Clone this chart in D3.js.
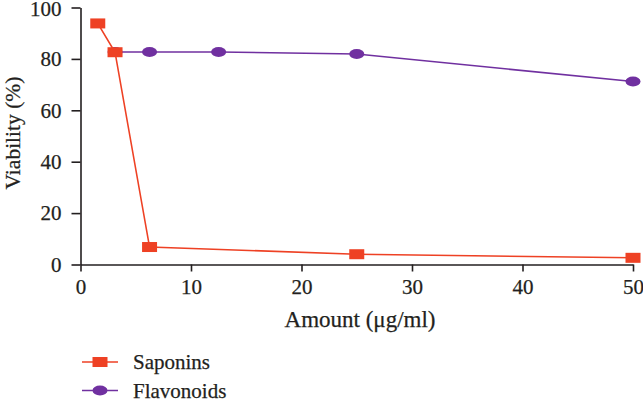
<!DOCTYPE html>
<html><head><meta charset="utf-8">
<script src="https://cdn.jsdelivr.net/npm/d3@7"></script>
<style>body{margin:0;background:#fff;} text{font-family:"Liberation Serif","DejaVu Serif",serif;fill:#231f20;stroke:#231f20;stroke-width:0.25px;}</style>
</head><body><svg id="c" width="643" height="417"></svg>
<script>
const sapX = [1.5625, 3.125, 6.25, 25, 50];
const sapY = [93.8, 82.6, 6.8, 4.0, 2.6];
const flaX = [3.125, 6.25, 12.5, 25, 50];
const flaY = [82.7, 82.7, 82.7, 81.9, 71.2];
const xTicks = [0, 10, 20, 30, 40, 50];
const yTicks = [0, 20, 40, 60, 80, 100];
const seriesNames = ["Saponins", "Flavonoids"];
const colors = ["#ee4124", "#7030a0"];

const svg = d3.select("#c");
const x = d3.scaleLinear().domain([0, 50]).range([80.5, 633]);
const y = d3.scaleLinear().domain([0, 100]).range([264.5, 7.5]);

const xAx = svg.append("g").attr("transform", "translate(0,264.5)")
  .call(d3.axisBottom(x).tickValues(xTicks).tickSize(7).tickPadding(8).tickSizeOuter(0));
const yAx = svg.append("g").attr("transform", "translate(80.5,0)")
  .call(d3.axisLeft(y).tickValues(yTicks).tickSize(9).tickPadding(10).tickSizeOuter(0));
[xAx, yAx].forEach(g => {
  g.select(".domain").attr("stroke", "#231f20").attr("stroke-width", 1.6);
  g.selectAll(".tick line").attr("stroke", "#231f20").attr("stroke-width", 1.6);
  g.selectAll(".tick text").style("font-size", "21px").style("font-family", "Liberation Serif").attr("fill", "#231f20");
});
yAx.selectAll(".tick text").filter(d => d === 100).attr("dy", "0.4em");

svg.append("text").attr("x", 360).attr("y", 327).attr("text-anchor", "middle")
  .style("font-size", "23px").text("Amount (μg/ml)");
svg.append("text").attr("transform", "translate(20,133) rotate(-90)").attr("text-anchor", "middle")
  .style("font-size", "21.5px").text("Viability (%)");

const line = d3.line().x(d => x(d[0])).y(d => y(d[1]));
const sap = sapX.map((v, i) => [v, sapY[i]]);
const fla = flaX.map((v, i) => [v, flaY[i]]);

svg.append("path").datum(fla).attr("d", line).attr("fill", "none").attr("stroke", colors[1]).attr("stroke-width", 1.6);
svg.selectAll(".fm").data(fla).enter().append("ellipse")
  .attr("cx", d => x(d[0])).attr("cy", d => y(d[1])).attr("rx", 7.5).attr("ry", 5).attr("fill", colors[1]);
svg.append("path").datum(sap).attr("d", line).attr("fill", "none").attr("stroke", colors[0]).attr("stroke-width", 1.6);
svg.selectAll(".sm").data(sap).enter().append("rect")
  .attr("x", d => x(d[0]) - 7.5).attr("y", d => y(d[1]) - 5).attr("width", 15).attr("height", 10).attr("fill", colors[0]);

// legend
const lg = svg.append("g");
seriesNames.forEach((name, i) => {
  const cy = 362 + i * 28.5;
  lg.append("line").attr("x1", 82).attr("x2", 118).attr("y1", cy).attr("y2", cy).attr("stroke", colors[i]).attr("stroke-width", 1.6);
  if (i === 0) lg.append("rect").attr("x", 92.5).attr("y", cy - 5).attr("width", 15).attr("height", 10).attr("fill", colors[i]);
  else lg.append("ellipse").attr("cx", 100).attr("cy", cy).attr("rx", 7.5).attr("ry", 5).attr("fill", colors[i]);
  lg.append("text").attr("x", 133).attr("y", cy + 7).style("font-size", "21px").text(name);
});
</script></body></html>
